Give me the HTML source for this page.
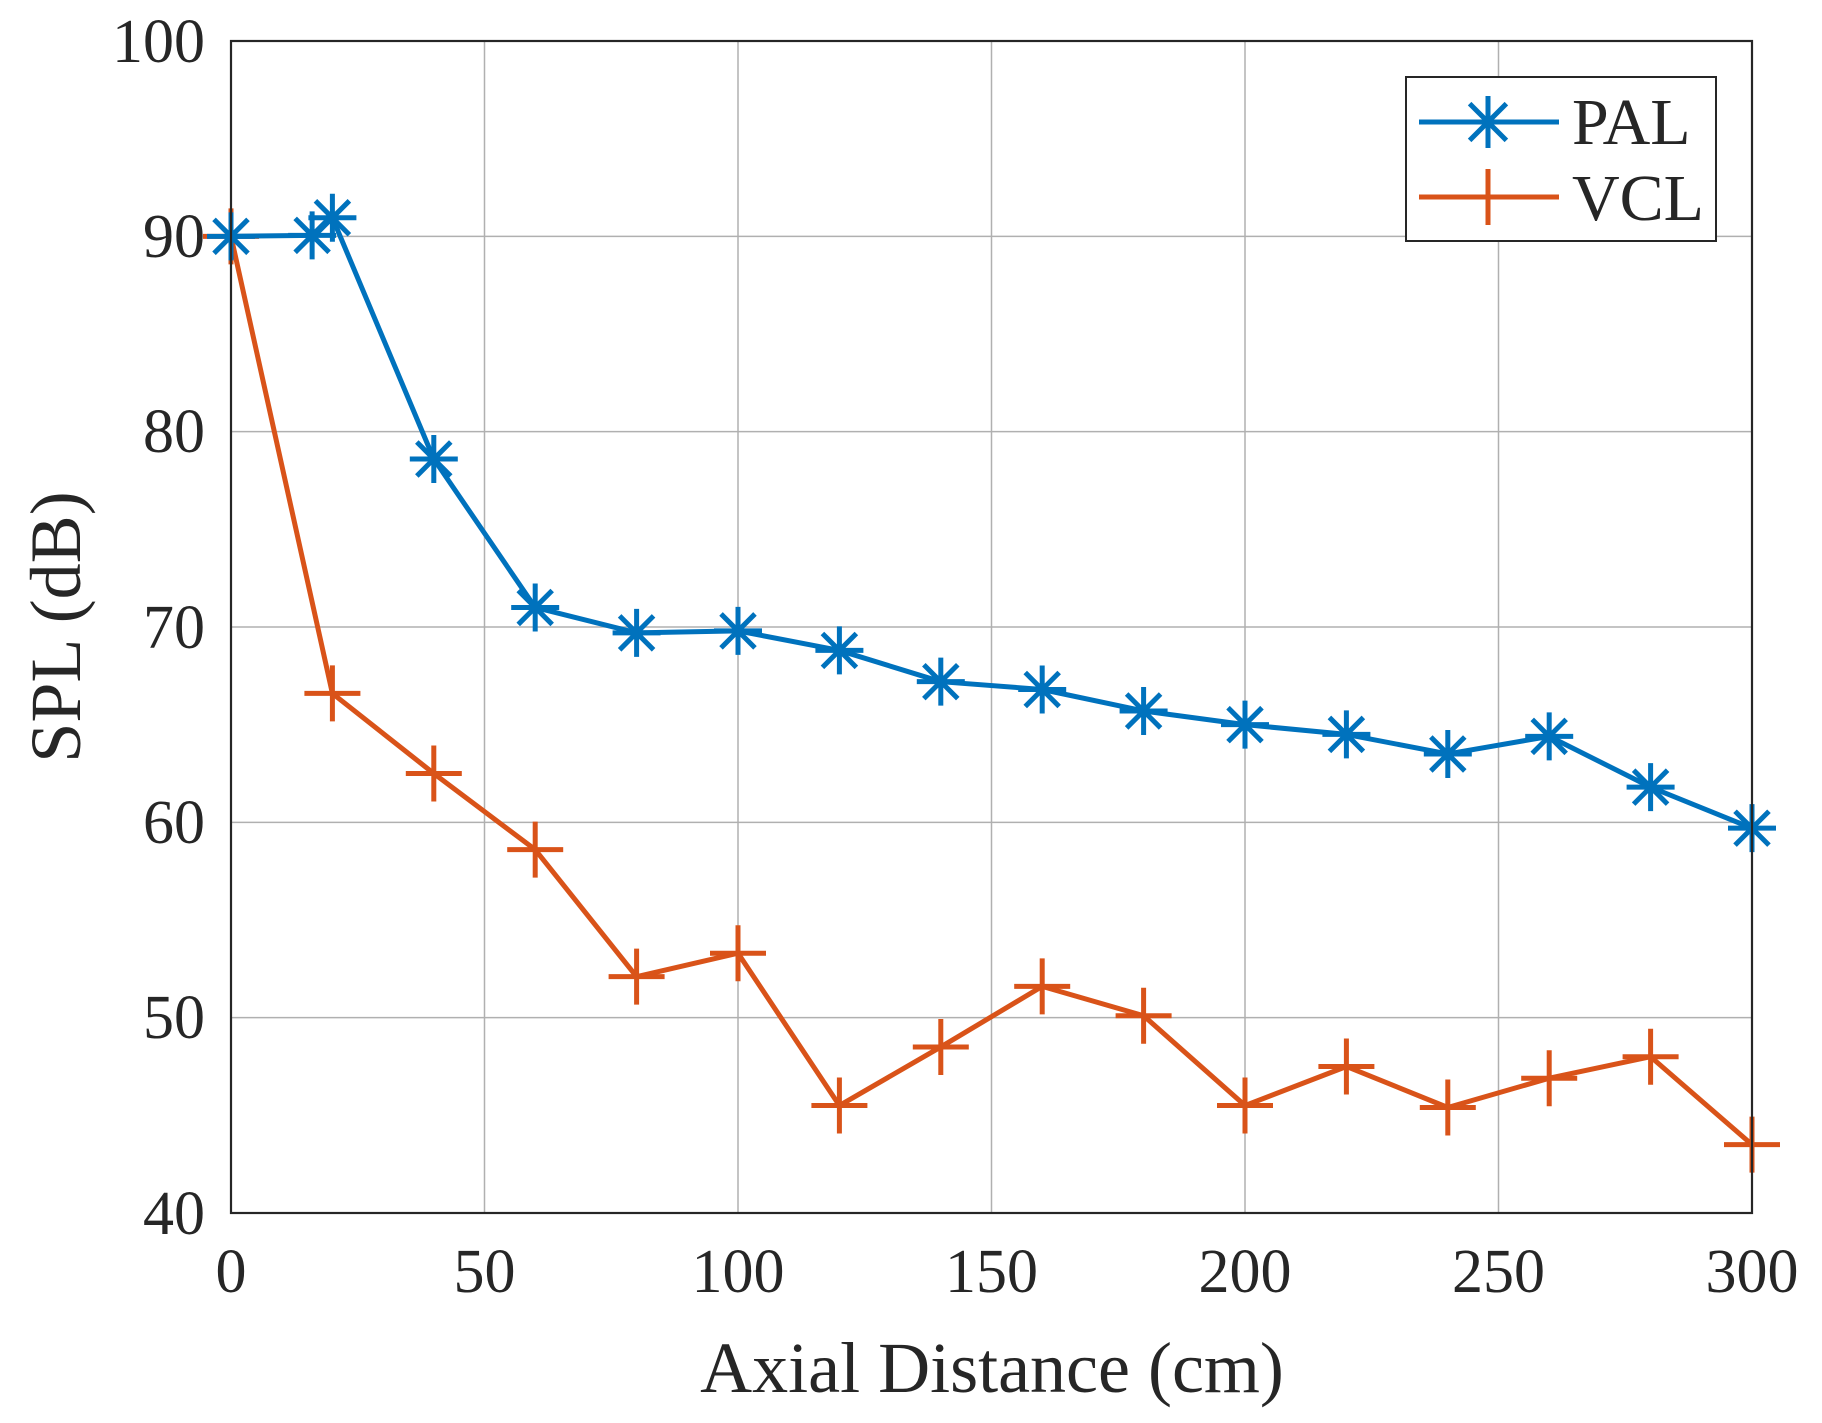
<!DOCTYPE html>
<html><head><meta charset="utf-8"><style>
html,body{margin:0;padding:0;background:#fff;}
svg{display:block;}
text{font-family:"Liberation Serif",serif;fill:#262626;}
</style></head><body>
<svg id="s" width="1822" height="1423" viewBox="0 0 1822 1423" xmlns="http://www.w3.org/2000/svg">
<rect width="1822" height="1423" fill="#fff"/>
<g id="grid" stroke="#b0b0b0" stroke-width="1.5"></g>
<g id="data"></g>
<rect x="231" y="41" width="1521" height="1172" fill="none" stroke="#262626" stroke-width="2.2"/>
<g font-size="62" text-anchor="middle">
<text x="231" y="1292">0</text>
<text x="484.5" y="1292">50</text>
<text x="738" y="1292">100</text>
<text x="991.5" y="1292">150</text>
<text x="1245" y="1292">200</text>
<text x="1498.5" y="1292">250</text>
<text x="1752" y="1292">300</text>
</g>
<g font-size="62" text-anchor="end">
<text x="205" y="62">100</text>
<text x="205" y="257">90</text>
<text x="205" y="452">80</text>
<text x="205" y="648">70</text>
<text x="205" y="843">60</text>
<text x="205" y="1038">50</text>
<text x="205" y="1234">40</text>
</g>
<text x="992" y="1392" font-size="72" text-anchor="middle">Axial Distance (cm)</text>
<text transform="translate(80,627) rotate(-90)" font-size="72" text-anchor="middle">SPL (dB)</text>
<rect x="1406" y="77" width="310" height="164" fill="#fff" stroke="#262626" stroke-width="2"/>
<g id="leg"></g>
<text x="1572" y="144" font-size="66" fill="#000">PAL</text>
<text x="1572" y="220" font-size="66" fill="#000">VCL</text>
</svg>
<script>
var NS="http://www.w3.org/2000/svg";
function X(v){return 231+v*5.07;}function Y(v){return 41+(100-v)*19.533;}
function el(p,t,a){var e=document.createElementNS(NS,t);for(var k in a)e.setAttribute(k,a[k]);p.appendChild(e);return e;}
var g=document.getElementById('grid');
[50,100,150,200,250].forEach(function(v){el(g,'line',{x1:X(v),x2:X(v),y1:41,y2:1213});});
[50,60,70,80,90].forEach(function(v){el(g,'line',{x1:231,x2:1752,y1:Y(v),y2:Y(v)});});
var pal=[[0,90],[16,90.05],[20,90.95],[40,78.6],[60,71],[80,69.7],[100,69.8],[120,68.8],[140,67.2],[160,66.8],[180,65.7],[200,65.0],[220,64.5],[240,63.5],[260,64.4],[280,61.8],[300,59.7]];
var vcl=[[0,90],[20,66.6],[40,62.5],[60,58.6],[80,52.1],[100,53.3],[120,45.5],[140,48.5],[160,51.6],[180,50.1],[200,45.5],[220,47.5],[240,45.4],[260,46.9],[280,48.0],[300,43.5]];
var d=document.getElementById('data');
function star(p,cx,cy,r,c){var s='';for(var i=0;i<4;i++){var a=i*Math.PI/4;s+='M'+(cx-r*Math.cos(a))+' '+(cy-r*Math.sin(a))+'L'+(cx+r*Math.cos(a))+' '+(cy+r*Math.sin(a));}el(p,'path',{d:s,stroke:c,'stroke-width':5,fill:'none'});}
function plus(p,cx,cy,r,c){el(p,'path',{d:'M'+(cx-r)+' '+cy+'H'+(cx+r)+'M'+cx+' '+(cy-r)+'V'+(cy+r),stroke:c,'stroke-width':5,fill:'none'});}
function series(arr,c,m){el(d,'polyline',{points:arr.map(function(p){return X(p[0])+','+Y(p[1]);}).join(' '),fill:'none',stroke:c,'stroke-width':5,'stroke-linejoin':'round'});arr.forEach(function(p){m(d,X(p[0]),Y(p[1]),c=== '#0072BD'?24:28,c);});}
series(vcl,'#D95319',plus);
series(pal,'#0072BD',star);
var L=document.getElementById('leg');
el(L,'line',{x1:1419,x2:1559,y1:122,y2:122,stroke:'#0072BD','stroke-width':5});star(L,1488,122,26,'#0072BD');
el(L,'line',{x1:1419,x2:1559,y1:197,y2:197,stroke:'#D95319','stroke-width':5});plus(L,1488,197,28,'#D95319');
</script>
</body></html>
